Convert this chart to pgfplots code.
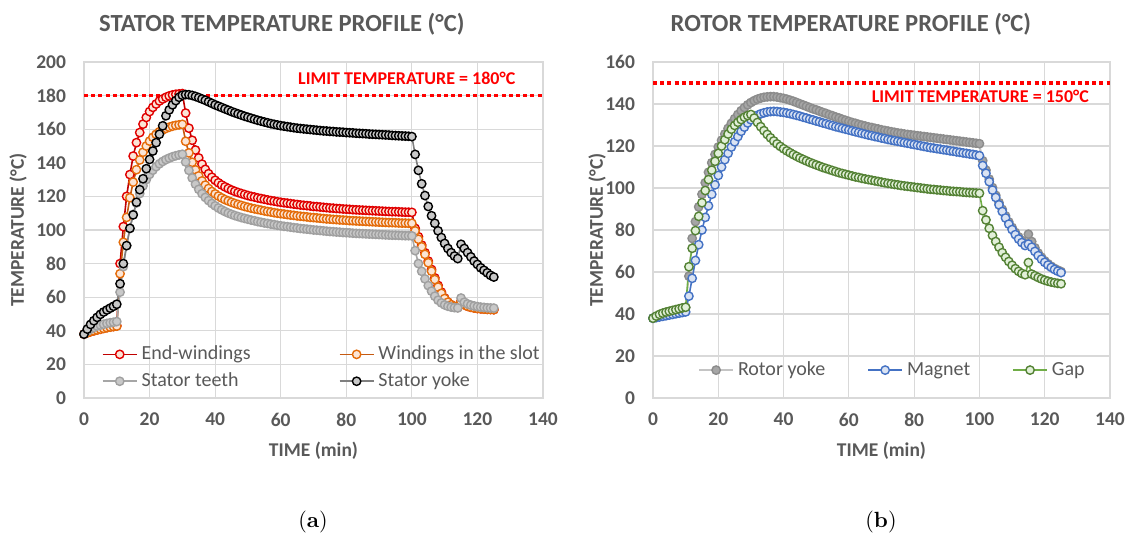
\documentclass[border=0pt]{standalone}
\usepackage{pgfplots}
\pgfplotsset{compat=1.18}
\usepackage{pgfplotstable}
\usepackage{fontspec}
\setmainfont{Carlito}
\newfontfamily\capfont{Latin Modern Roman}
\definecolor{txt}{HTML}{595959}
\definecolor{gridc}{HTML}{D9D9D9}
\definecolor{ewline}{HTML}{C00000}
\definecolor{ewedge}{HTML}{E00000}
\definecolor{ewfill}{HTML}{FCE4D6}
\definecolor{wsline}{HTML}{C55A11}
\definecolor{wsedge}{HTML}{E46C0A}
\definecolor{wsfill}{HTML}{FBE5D6}
\definecolor{stline}{HTML}{A6A6A6}
\definecolor{stedge}{HTML}{A0A0A0}
\definecolor{stfill}{HTML}{C8C8C8}
\definecolor{syline}{HTML}{7F7F7F}
\definecolor{syfill}{HTML}{C8C8C8}
\definecolor{ryline}{HTML}{C4C4C4}
\definecolor{ryedge}{HTML}{8C8C8C}
\definecolor{ryfill}{HTML}{A6A6A6}
\definecolor{mgline}{HTML}{4472C4}
\definecolor{mgfill}{HTML}{DAE3F3}
\definecolor{gpline}{HTML}{70AD47}
\definecolor{gpedge}{HTML}{548235}
\definecolor{gpfill}{HTML}{E2F0D9}
\definecolor{limred}{HTML}{FF0000}

\pgfplotstableread{
t ew ws st sy
0 38.0 38.0 38.0 38.0
1 38.8 38.8 39.8 41.0
2 39.5 39.5 41.0 43.8
3 40.0 40.0 42.0 46.0
4 40.5 40.5 42.8 48.0
5 41.0 41.0 43.4 49.8
6 41.5 41.4 43.9 51.2
7 42.0 41.8 44.4 52.4
8 42.3 42.2 44.8 53.5
9 42.6 42.5 45.1 54.6
10 43.0 42.8 45.5 55.8
11 80.0 74.0 63.0 68.0
12 102.0 92.7 78.2 80.0
13 120.0 107.5 90.7 90.7
14 133.0 119.2 100.9 101.0
15 144.0 128.5 109.3 109.0
16 152.0 135.9 116.1 116.5
17 158.0 141.7 121.7 124.0
18 163.0 146.3 126.3 130.5
19 167.0 150.0 130.0 136.5
20 170.5 152.9 133.1 142.0
21 173.0 155.2 135.6 147.0
22 175.0 157.0 137.7 152.0
23 176.8 158.5 139.4 157.0
24 178.0 159.6 140.8 162.0
25 179.0 160.5 141.9 168.0
26 179.8 161.2 142.8 171.5
27 180.4 161.8 143.6 174.5
28 180.8 162.3 144.2 177.0
29 181.0 162.6 144.7 179.0
30 181.2 162.9 145.1 180.2
31 169.6 152.8 140.5 180.6
32 160.6 145.9 135.5 180.5
33 153.4 140.3 131.0 180.1
34 147.6 135.8 127.3 179.5
35 142.9 132.2 124.2 178.8
36 139.2 129.2 121.6 178.0
37 136.1 126.7 119.4 177.2
38 133.5 124.7 117.5 176.3
39 131.4 122.9 115.8 175.4
40 129.6 121.5 114.4 174.5
41 128.1 120.2 113.1 173.7
42 126.8 119.1 112.0 172.9
43 125.7 118.1 111.0 172.1
44 124.7 117.3 110.1 171.3
45 123.8 116.5 109.3 170.5
46 123.0 115.8 108.6 169.8
47 122.3 115.2 108.0 169.1
48 121.7 114.6 107.4 168.4
49 121.1 114.0 106.9 167.7
50 120.5 113.5 106.4 167.1
51 120.0 113.0 105.9 166.5
52 119.6 112.6 105.5 165.9
53 119.1 112.2 105.0 165.3
54 118.7 111.8 104.6 164.8
55 118.3 111.4 104.2 164.3
56 117.9 111.0 103.9 163.8
57 117.5 110.7 103.5 163.3
58 117.2 110.3 103.2 162.9
59 116.8 110.0 102.8 162.5
60 116.5 109.7 102.5 162.1
61 116.2 109.5 102.2 161.8
62 116.0 109.2 102.0 161.5
63 115.7 108.9 101.7 161.2
64 115.4 108.7 101.4 160.9
65 115.2 108.4 101.2 160.6
66 114.9 108.2 100.9 160.4
67 114.7 108.0 100.7 160.2
68 114.5 107.8 100.5 160.0
69 114.3 107.5 100.3 159.8
70 114.0 107.4 100.0 159.6
71 113.9 107.2 99.9 159.4
72 113.7 107.0 99.7 159.2
73 113.5 106.8 99.5 159.0
74 113.3 106.6 99.3 158.9
75 113.1 106.5 99.1 158.7
76 113.0 106.3 99.0 158.6
77 112.8 106.2 98.8 158.4
78 112.7 106.0 98.7 158.3
79 112.5 105.9 98.5 158.2
80 112.4 105.8 98.4 158.0
81 112.3 105.6 98.3 157.9
82 112.1 105.5 98.1 157.8
83 112.0 105.4 98.0 157.6
84 111.9 105.3 97.9 157.5
85 111.8 105.2 97.8 157.4
86 111.7 105.1 97.7 157.3
87 111.6 105.0 97.6 157.1
88 111.5 104.9 97.5 157.0
89 111.4 104.8 97.4 156.9
90 111.3 104.7 97.3 156.8
91 111.2 104.6 97.2 156.7
92 111.1 104.5 97.1 156.6
93 111.0 104.4 97.0 156.5
94 110.9 104.4 96.9 156.3
95 110.9 104.3 96.9 156.2
96 110.8 104.2 96.8 156.1
97 110.7 104.1 96.7 156.0
98 110.6 104.1 96.6 155.9
99 110.6 104.0 96.6 155.8
100 110.5 104.0 96.5 155.6
101 101.0 99.5 87.7 145.0
102 96.0 94.5 80.0 135.5
103 91.0 90.0 75.4 127.5
104 86.5 85.5 70.9 120.5
105 81.5 80.5 66.9 114.0
106 76.5 75.5 63.6 108.5
107 71.5 70.5 60.6 104.0
108 67.0 66.0 58.2 99.5
109 63.0 62.3 56.6 95.5
110 59.5 59.2 55.4 92.0
111 57.0 57.0 54.6 89.0
112 55.5 55.5 54.1 86.5
113 54.5 54.5 53.8 84.5
114 54.0 54.0 53.6 83.0
115 57.5 57.5 59.5 91.5
116 55.5 55.5 57.0 89.0
117 54.6 54.6 56.0 86.5
118 54.0 54.0 55.3 84.0
119 53.6 53.6 54.8 81.5
120 53.3 53.3 54.4 79.5
121 53.1 53.1 54.1 77.5
122 52.9 52.9 53.9 76.0
123 52.8 52.8 53.7 74.5
124 52.7 52.7 53.6 73.0
125 52.6 52.6 53.5 72.0
}\stator

\pgfplotstableread{
t ry mg gp
0 38.0 38.0 38.0
1 38.7 38.3 39.0
2 39.3 38.6 39.8
3 39.8 38.9 40.4
4 40.3 39.2 40.9
5 40.8 39.5 41.3
6 41.3 39.8 41.7
7 41.8 40.1 42.1
8 42.2 40.4 42.5
9 42.6 40.7 42.9
10 43.0 41.0 43.2
11 58.0 48.5 62.5
12 76.0 57.0 71.3
13 84.0 65.5 79.7
14 91.0 73.0 86.5
15 97.0 80.0 93.0
16 102.5 86.0 98.8
17 107.5 91.5 104.0
18 112.0 97.0 108.5
19 116.0 101.5 112.7
20 119.5 106.0 116.5
21 122.7 110.0 120.0
22 125.7 113.5 123.0
23 128.4 116.5 125.7
24 130.8 119.5 128.0
25 133.0 122.0 129.8
26 135.0 124.5 131.3
27 136.8 127.0 132.6
28 138.3 129.0 133.7
29 139.6 131.0 134.5
30 140.7 132.5 135.0
31 141.6 133.7 133.3
32 142.3 134.6 131.2
33 142.8 135.3 129.2
34 143.2 135.8 127.3
35 143.4 136.2 125.5
36 143.5 136.4 123.9
37 143.5 136.5 122.4
38 143.3 136.4 121.0
39 143.0 136.2 119.8
40 142.7 136.0 118.7
41 142.3 135.7 117.7
42 141.8 135.4 116.8
43 141.3 135.0 115.9
44 140.7 134.6 115.1
45 140.1 134.2 114.3
46 139.5 133.7 113.6
47 138.9 133.3 112.9
48 138.3 132.8 112.2
49 137.7 132.4 111.6
50 137.2 131.9 111.0
51 136.6 131.5 110.4
52 136.0 131.0 109.8
53 135.5 130.6 109.3
54 134.9 130.1 108.8
55 134.4 129.7 108.3
56 133.8 129.2 107.8
57 133.3 128.8 107.3
58 132.7 128.4 106.9
59 132.2 128.0 106.5
60 131.7 127.6 106.1
61 131.2 127.2 105.7
62 130.8 126.8 105.3
63 130.3 126.4 105.0
64 129.9 126.0 104.6
65 129.5 125.6 104.3
66 129.1 125.2 104.0
67 128.8 124.9 103.7
68 128.4 124.5 103.4
69 128.1 124.2 103.1
70 127.7 123.8 102.8
71 127.4 123.5 102.5
72 127.1 123.1 102.2
73 126.8 122.8 102.0
74 126.5 122.5 101.7
75 126.2 122.2 101.5
76 126.0 121.9 101.2
77 125.7 121.6 101.0
78 125.5 121.3 100.8
79 125.3 121.0 100.6
80 125.1 120.7 100.4
81 124.9 120.4 100.2
82 124.7 120.1 100.0
83 124.5 119.8 99.8
84 124.3 119.5 99.6
85 124.1 119.2 99.4
86 123.9 119.0 99.3
87 123.7 118.7 99.1
88 123.5 118.5 99.0
89 123.3 118.2 98.8
90 123.1 118.0 98.7
91 122.9 117.7 98.5
92 122.7 117.5 98.4
93 122.5 117.2 98.3
94 122.3 117.0 98.2
95 122.1 116.7 98.0
96 121.9 116.5 97.9
97 121.7 116.2 97.8
98 121.5 116.0 97.7
99 121.3 115.7 97.6
100 121.1 115.4 97.5
101 113.0 110.7 89.2
102 108.5 107.0 84.8
103 104.2 103.0 80.8
104 100.2 99.0 77.4
105 96.5 95.5 74.5
106 93.0 92.0 71.8
107 89.8 88.8 69.2
108 86.7 85.7 67.0
109 83.8 82.8 65.0
110 81.2 80.2 63.2
111 78.8 77.8 61.6
112 76.7 75.7 60.3
113 75.0 74.0 59.3
114 73.5 72.6 58.7
115 78.0 73.3 64.5
116 74.5 71.8 59.0
117 71.5 69.8 58.2
118 69.0 67.8 57.4
119 67.0 66.1 56.7
120 65.3 64.6 56.1
121 63.9 63.3 55.6
122 62.7 62.2 55.2
123 61.7 61.2 54.9
124 60.9 60.4 54.6
125 60.2 59.7 54.4
}\rotor

\pgfplotsset{
  tempax/.style={
    scale only axis, height=168pt,
    xmin=0, xmax=140, xtick={0,20,...,140},
    ymin=0,
    grid=major, major grid style={gridc, line width=0.6pt},
    axis line style={gridc, line width=0.6pt},
    tick style={draw=none},
    clip=false,
    /pgf/number format/assume math mode=true,
    ticklabel style={font=\bfseries\fontsize{9.75}{11}\selectfont, text=txt},
    xticklabel style={yshift=-4pt},
    yticklabel style={xshift=-5.5pt},
    xlabel={TIME (min)}, ylabel={TEMPERATURE (°C)},
    label style={font=\bfseries\fontsize{9.75}{11}\selectfont, text=txt},
    xlabel style={at={(axis description cs:0.5,0)}, anchor=center, yshift=-26.5pt},
    title style={font=\bfseries\fontsize{12.3}{14}\selectfont, text=txt, anchor=center, yshift=13pt},
    legend cell align=left,
    legend style={draw=none, fill=none, font=\fontsize{10}{12}\selectfont, text=txt, row sep=1pt},
  },
  ser/.style n args={3}{color=#1, line width=0.8pt, mark=*, mark size=2.1pt,
    mark options={draw=#2, fill=#3, line width=0.7pt, solid}},
  lim/.style={limred, line width=1.8pt, dash pattern=on 2pt off 1.6pt, forget plot},
}

\begin{document}
\begin{tikzpicture}
\useasboundingbox (0,0) rectangle (565pt,270.5pt);
\begin{axis}[tempax, at={(42pt,71.5pt)}, anchor=south west, width=229.5pt,
  ymax=200, ytick={0,20,...,200},
  title={STATOR TEMPERATURE PROFILE (°C)},
  title style={at={(axis description cs:0.431,1)}},
  ylabel style={at={(axis description cs:-0.1438,0.5)}, anchor=center},
  legend columns=2,
  legend style={at={(axis description cs:0.025,0.18)}, anchor=north west,
    /tikz/every even column/.append style={column sep=42pt}}]
\addplot[lim] coordinates {(0,180) (140,180)};
\addplot[ser={ewline}{ewedge}{ewfill}] table[x=t,y=ew]{\stator};
\addlegendentry{End-windings}
\addplot[ser={wsline}{wsedge}{wsfill}] table[x=t,y=ws]{\stator};
\addlegendentry{Windings in the slot}
\addplot[ser={stline}{stedge}{stfill}] table[x=t,y=st]{\stator};
\addlegendentry{Stator teeth}
\addplot[ser={syline}{black}{syfill}] table[x=t,y=sy]{\stator};
\addlegendentry{Stator yoke}
\node[anchor=east, font=\bfseries\fontsize{9}{11}\selectfont, text=limred] at (axis cs:133.7,190) {LIMIT TEMPERATURE = 180°C};
\end{axis}

\begin{axis}[tempax, at={(326.5pt,71.5pt)}, anchor=south west, width=228.5pt,
  ymax=160, ytick={0,20,...,160},
  title={ROTOR TEMPERATURE PROFILE (°C)},
  title style={at={(axis description cs:0.433,1)}},
  ylabel style={at={(axis description cs:-0.1225,0.5)}, anchor=center},
  legend columns=3,
  legend style={at={(axis description cs:0.085,0.083)}, anchor=west,
    /tikz/every even column/.append style={column sep=19pt}}]
\addplot[lim] coordinates {(0,150) (140,150)};
\addplot[ser={ryline}{ryedge}{ryfill}] table[x=t,y=ry]{\rotor};
\addlegendentry{Rotor yoke}
\addplot[ser={mgline}{mgline}{mgfill}] table[x=t,y=mg]{\rotor};
\addlegendentry{Magnet}
\addplot[ser={gpline}{gpedge}{gpfill}] table[x=t,y=gp]{\rotor};
\addlegendentry{Gap}
\node[anchor=east, font=\bfseries\fontsize{9}{11}\selectfont, text=limred] at (axis cs:135.7,143.8) {LIMIT TEMPERATURE = 150°C};
\end{axis}

\node[font=\capfont\fontsize{11}{13}\selectfont] at (156.5pt,9.5pt) {(\textbf{a})};
\node[font=\capfont\fontsize{11}{13}\selectfont] at (440.5pt,9.5pt) {(\textbf{b})};
\end{tikzpicture}
\end{document}
